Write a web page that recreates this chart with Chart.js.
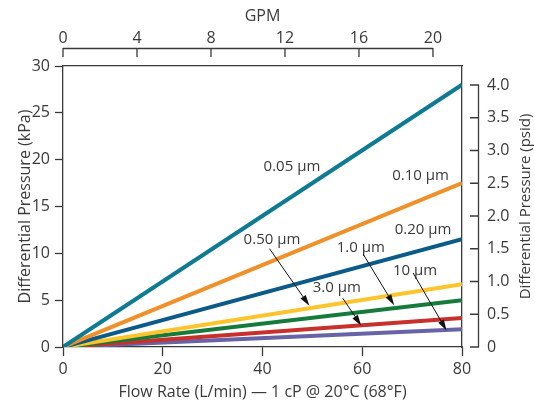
<!DOCTYPE html>
<html><head><meta charset="utf-8">
<script src="https://cdn.jsdelivr.net/npm/chart.js@4/dist/chart.umd.min.js"></script>
<style>html,body{margin:0;padding:0;background:#fff}#wrap{width:535px;height:405px;position:relative}</style>
</head><body><div id="wrap"><canvas id="c"></canvas></div>
<script>
// ---- data ----
const seriesNames = ['0.05 µm', '0.10 µm', '0.20 µm', '0.50 µm', '1.0 µm', '3.0 µm', '10 µm'];
const flowRates = [0, 80];                       // L/min
const pressureStart = [0, 0, 0, 0, 0, 0, 0];     // kPa at 0 L/min
const pressureEnd = [28.0, 17.5, 11.5, 6.7, 5.0, 3.1, 1.9]; // kPa at 80 L/min
const kpaTicks = [0, 5, 10, 15, 20, 25, 30];
const flowTicks = [0, 20, 40, 60, 80];
const gpmTicks = [0, 4, 8, 12, 16, 20];
const psidTicks = [0, 0.5, 1.0, 1.5, 2.0, 2.5, 3.0, 3.5, 4.0];

// ---- annotation placement (data units of the kPa / L/min axes) ----
const labelX = [45.9, 71.7, 72.2, 41.9, 59.7, 54.9, 70.6];
const labelY = [19.2, 18.3, 12.5, 11.4, 10.6, 6.3, 8.15];
const arrowFor = ['0.50 µm', '1.0 µm', '3.0 µm', '10 µm'];
const arrowFromX = [41.4, 60.2, 56.1, 70.2];
const arrowFromY = [10.5, 9.9, 5.2, 7.9];
const arrowToX = [49.4, 66.4, 59.8, 76.9];
const arrowToY = [4.4, 4.45, 2.27, 1.75];

// ---- styles ----
const colors = ['#0E7B92', '#EF9029', '#0B5A88', '#FDC52B', '#167A3B', '#C7302B', '#6663A6'];
const textColor = '#3a3a3a';
const axisColor = '#3a3a3a';
const FONT = "'Open Sans', sans-serif";

const datasets = seriesNames.map((n, i) => ({
  label: n,
  data: flowRates.map((f, j) => ({ x: f, y: j === 0 ? pressureStart[i] : pressureEnd[i] })),
  borderColor: colors[i],
  backgroundColor: colors[i],
  borderWidth: 4,
  pointRadius: 0,
  borderCapStyle: 'butt',
  showLine: true,
  xAxisID: 'x',
  yAxisID: 'y'
}));
// dummy dataset binding secondary axes
datasets.push({ label: '_gpm', data: [], xAxisID: 'x2', yAxisID: 'y2', showLine: false, pointRadius: 0 });

const annot = {
  id: 'annot',
  afterDatasetsDraw(chart) {
    const ctx = chart.ctx, sx = chart.scales.x, sy = chart.scales.y;
    const x2 = chart.scales.x2, y2 = chart.scales.y2, ca = chart.chartArea;
    ctx.save();
    // top GPM bracket
    ctx.strokeStyle = axisColor; ctx.lineWidth = 1.3;
    const yb = ca.top - 17.5;
    ctx.beginPath();
    ctx.moveTo(x2.getPixelForValue(gpmTicks[0]), yb);
    ctx.lineTo(x2.getPixelForValue(gpmTicks[gpmTicks.length - 1]), yb);
    gpmTicks.forEach(t => { const p = x2.getPixelForValue(t); ctx.moveTo(p, yb - 0.6); ctx.lineTo(p, yb + 8.5); });
    ctx.stroke();
    // right psid bracket
    const xb = ca.right + 16.5;
    ctx.beginPath();
    ctx.moveTo(xb, y2.getPixelForValue(psidTicks[0]));
    ctx.lineTo(xb, y2.getPixelForValue(psidTicks[psidTicks.length - 1]));
    psidTicks.forEach(t => { const p = y2.getPixelForValue(t); ctx.moveTo(xb + 0.6, p); ctx.lineTo(xb - 8.5, p); });
    ctx.stroke();
    // right title
    ctx.fillStyle = textColor;
    ctx.font = "15px " + FONT;
    ctx.textAlign = 'center'; ctx.textBaseline = 'middle';
    ctx.translate(526, (ca.top + ca.bottom) / 2);
    ctx.rotate(-Math.PI / 2);
    ctx.fillText('Differential Pressure (psid)', 0, 0);
    ctx.restore();

    ctx.save();
    // series labels
    ctx.fillStyle = textColor;
    ctx.font = "15px " + FONT;
    ctx.textAlign = 'center'; ctx.textBaseline = 'middle';
    seriesNames.forEach((n, i) => ctx.fillText(n, sx.getPixelForValue(labelX[i]), sy.getPixelForValue(labelY[i])));
    // arrows
    ctx.strokeStyle = '#111'; ctx.fillStyle = '#111'; ctx.lineWidth = 1;
    arrowFor.forEach((n, i) => {
      const x0 = sx.getPixelForValue(arrowFromX[i]), y0 = sy.getPixelForValue(arrowFromY[i]);
      const x1 = sx.getPixelForValue(arrowToX[i]), y1 = sy.getPixelForValue(arrowToY[i]);
      const a = Math.atan2(y1 - y0, x1 - x0), L = 11, W = 3.2;
      const bx = x1 - L * Math.cos(a), by = y1 - L * Math.sin(a);
      ctx.beginPath(); ctx.moveTo(x0, y0); ctx.lineTo(bx, by); ctx.stroke();
      ctx.beginPath();
      ctx.moveTo(x1, y1);
      ctx.lineTo(bx + W * Math.sin(a), by - W * Math.cos(a));
      ctx.lineTo(bx - W * Math.sin(a), by + W * Math.cos(a));
      ctx.closePath(); ctx.fill();
    });
    ctx.restore();
  }
};

const tickFont = { family: FONT, size: 16 };
const titleFont = { family: FONT, size: 16 };

new Chart(document.getElementById('c'), {
  type: 'scatter',
  data: { datasets },
  plugins: [annot],
  options: {
    responsive: true, maintainAspectRatio: false, animation: false,
    layout: { padding: 0 },
    plugins: { legend: { display: false }, tooltip: { enabled: false } },
    scales: {
      x: {
        type: 'linear', position: 'bottom', min: 0, max: 80,
        afterBuildTicks: s => { s.ticks = flowTicks.map(v => ({ value: v })); },
        afterFit: s => { s.height = 58; },
        grid: { drawOnChartArea: false, color: axisColor, tickLength: 9, tickWidth: 1.3 },
        border: { color: axisColor, width: 1.3 },
        ticks: { color: textColor, font: tickFont, padding: 4, maxRotation: 0 },
        title: { display: true, text: 'Flow Rate (L/min) — 1 cP @ 20°C (68°F)', color: textColor, font: titleFont, padding: { top: 0, bottom: 3 } }
      },
      y: {
        type: 'linear', position: 'left', min: 0, max: 30,
        afterBuildTicks: s => { s.ticks = kpaTicks.map(v => ({ value: v })); },
        afterFit: s => { s.width = 63; },
        grid: { drawOnChartArea: false, color: axisColor, tickLength: 8, tickWidth: 1.3 },
        border: { color: axisColor, width: 1.3 },
        ticks: { color: textColor, font: tickFont, padding: 5 },
        title: { display: true, text: 'Differential Pressure (kPa)', color: textColor, font: titleFont, padding: { top: 16, bottom: 0 } }
      },
      x2: {
        type: 'linear', position: 'top', min: 0, max: 21.57,
        afterBuildTicks: s => { s.ticks = gpmTicks.map(v => ({ value: v })); },
        afterFit: s => { s.height = 66; },
        grid: { display: false, drawOnChartArea: false, drawTicks: false, tickLength: 0 },
        border: { display: true, color: axisColor, width: 1.3 },
        ticks: { color: textColor, font: tickFont, padding: 18, maxRotation: 0 },
        title: { display: true, text: 'GPM', color: textColor, font: titleFont, padding: { top: 7, bottom: 0 } }
      },
      y2: {
        type: 'linear', position: 'right', min: 0, max: 4.29,
        afterBuildTicks: s => { s.ticks = psidTicks.map(v => ({ value: v })); },
        afterFit: s => { s.width = 73; },
        grid: { display: false, drawOnChartArea: false, drawTicks: false, tickLength: 0 },
        border: { display: true, color: axisColor, width: 1.3 },
        ticks: { color: textColor, font: tickFont, padding: 25, callback: v => (v === 0 ? '0' : v.toFixed(1)) }
      }
    }
  }
});
</script>
</body></html>
